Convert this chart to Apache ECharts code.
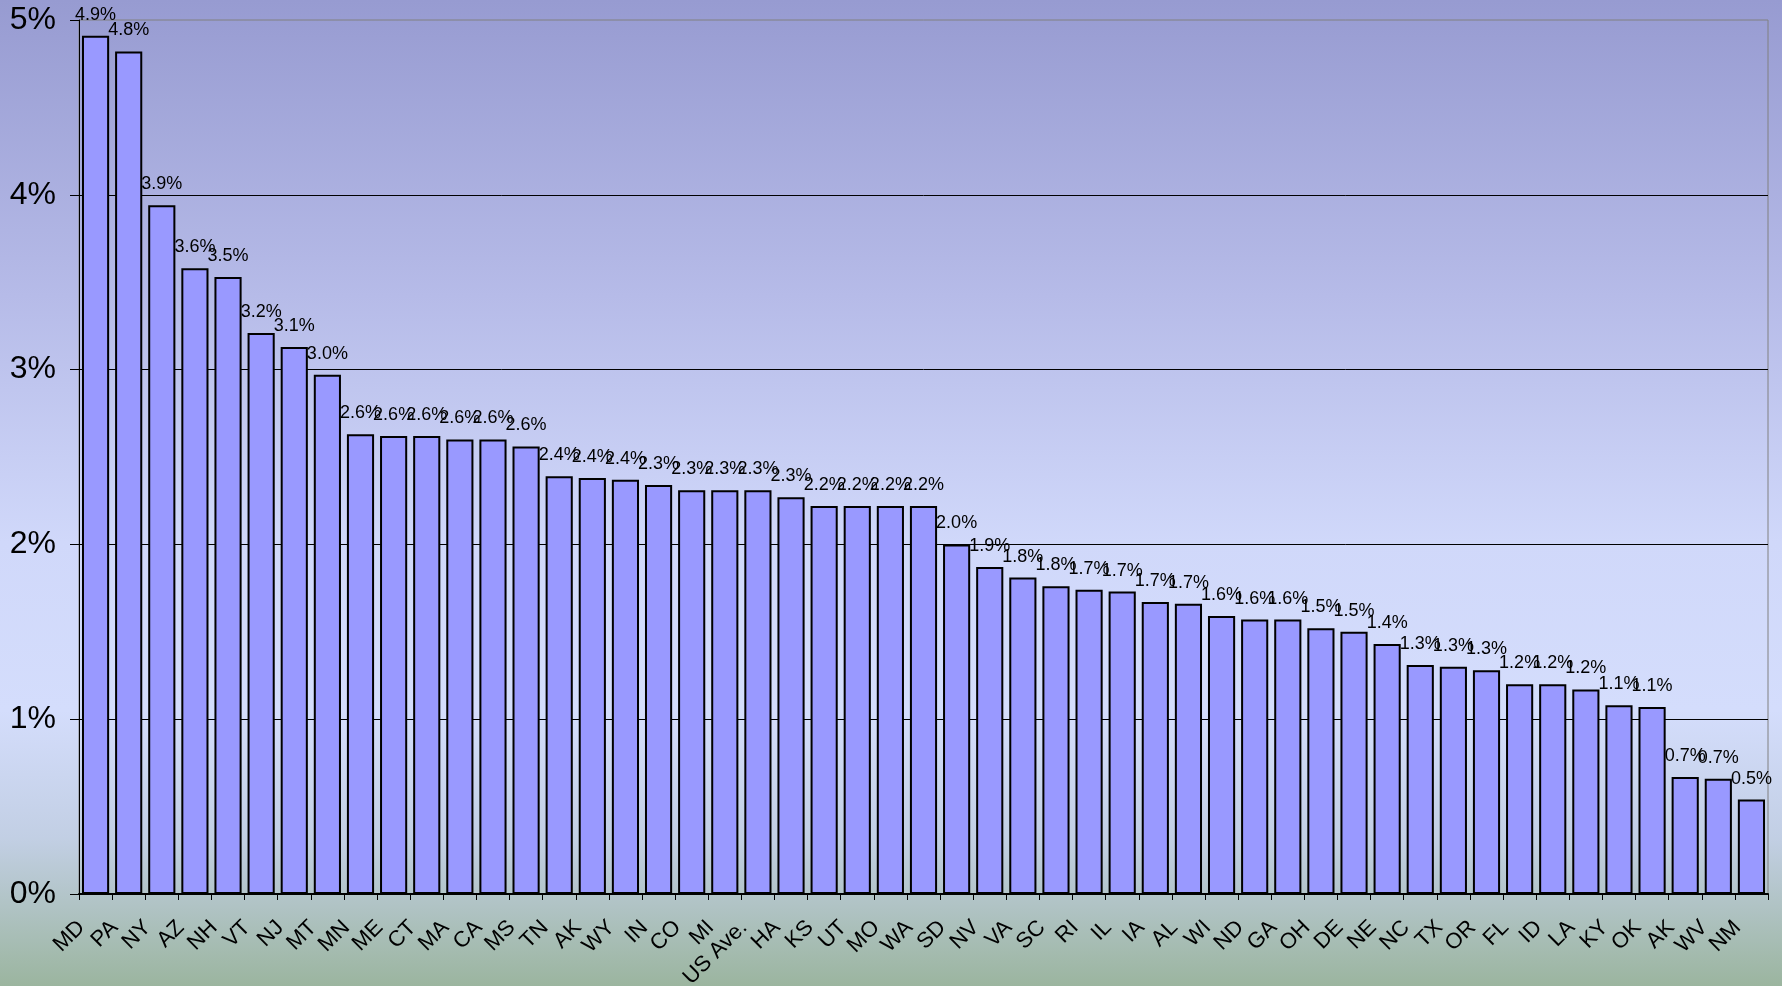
<!DOCTYPE html>
<html>
<head>
<meta charset="utf-8">
<script src="https://cdn.jsdelivr.net/npm/echarts@6/dist/echarts.min.js"></script>
<style>
  html, body { margin: 0; padding: 0; }
  #chart { width: 1782px; height: 986px; }
</style>
</head>
<body>
<div id="chart"></div>
<script>
var states = ['MD', 'PA', 'NY', 'AZ', 'NH', 'VT', 'NJ', 'MT', 'MN', 'ME', 'CT', 'MA', 'CA', 'MS', 'TN',
  'AK', 'WY', 'IN', 'CO', 'MI', 'US Ave.', 'HA', 'KS', 'UT', 'MO', 'WA', 'SD', 'NV', 'VA', 'SC', 'RI',
  'IL', 'IA', 'AL', 'WI', 'ND', 'GA', 'OH', 'DE', 'NE', 'NC', 'TX', 'OR', 'FL', 'ID', 'LA', 'KY', 'OK',
  'AK', 'WV', 'NM'];

// percent values
var rates = [4.91, 4.82, 3.94, 3.58, 3.53, 3.21, 3.13, 2.97, 2.63, 2.62, 2.62, 2.6, 2.6, 2.56, 2.39,
  2.38, 2.37, 2.34, 2.31, 2.31, 2.31, 2.27, 2.22, 2.22, 2.22, 2.22, 2.0, 1.87, 1.81, 1.76, 1.74,
  1.73, 1.67, 1.66, 1.59, 1.57, 1.57, 1.52, 1.5, 1.43, 1.31, 1.3, 1.28, 1.2, 1.2, 1.17, 1.08, 1.07,
  0.67, 0.66, 0.54];

var yTicks = { min: 0, max: 5, step: 1 };

var chart = echarts.init(document.getElementById('chart'));

var option = {
  animation: false,
  backgroundColor: {
    type: 'linear', x: 0, y: 0, x2: 0, y2: 1,
    colorStops: [
      { offset: 0, color: '#979bd1' },
      { offset: 0.3, color: '#b6bbe8' },
      { offset: 0.55, color: '#d0d8fa' },
      { offset: 0.72, color: '#d4ddfc' },
      { offset: 0.85, color: '#c2cfe4' },
      { offset: 1, color: '#9bb59f' }
    ]
  },
  textStyle: { fontFamily: 'Liberation Sans' },
  grid: {
    left: 79, right: 14, top: 20, bottom: 92,
    outerBoundsMode: 'none',
    show: true, borderColor: '#808080', borderWidth: 1
  },
  xAxis: {
    type: 'category',
    data: states,
    axisLine: { lineStyle: { color: '#000', width: 2 } },
    axisTick: { show: true, length: 6, lineStyle: { color: '#000' } },
    axisLabel: {
      interval: 0, rotate: 45, fontSize: 22, color: '#000', margin: 16,
      padding: [0, 20, 0, 0]
    }
  },
  yAxis: {
    type: 'value',
    min: yTicks.min, max: yTicks.max, interval: yTicks.step,
    axisLine: { show: true, lineStyle: { color: '#000', width: 1 } },
    axisTick: { show: true, length: 9, lineStyle: { color: '#000' } },
    axisLabel: { fontSize: 32, color: '#000', margin: 23, formatter: '{value}%' },
    splitLine: { show: true, showMaxLine: false, lineStyle: { color: '#000', width: 1 } }
  },
  series: [{
    type: 'bar',
    data: rates,
    barCategoryGap: '18%',
    itemStyle: { color: '#9999ff', borderColor: '#000', borderWidth: 2 },
    label: {
      show: true, position: 'top', distance: 12,
      fontSize: 18, color: '#000',
      formatter: function (p) { return p.value.toFixed(1) + '%'; }
    }
  }]
};

chart.setOption(option);
</script>
</body>
</html>
